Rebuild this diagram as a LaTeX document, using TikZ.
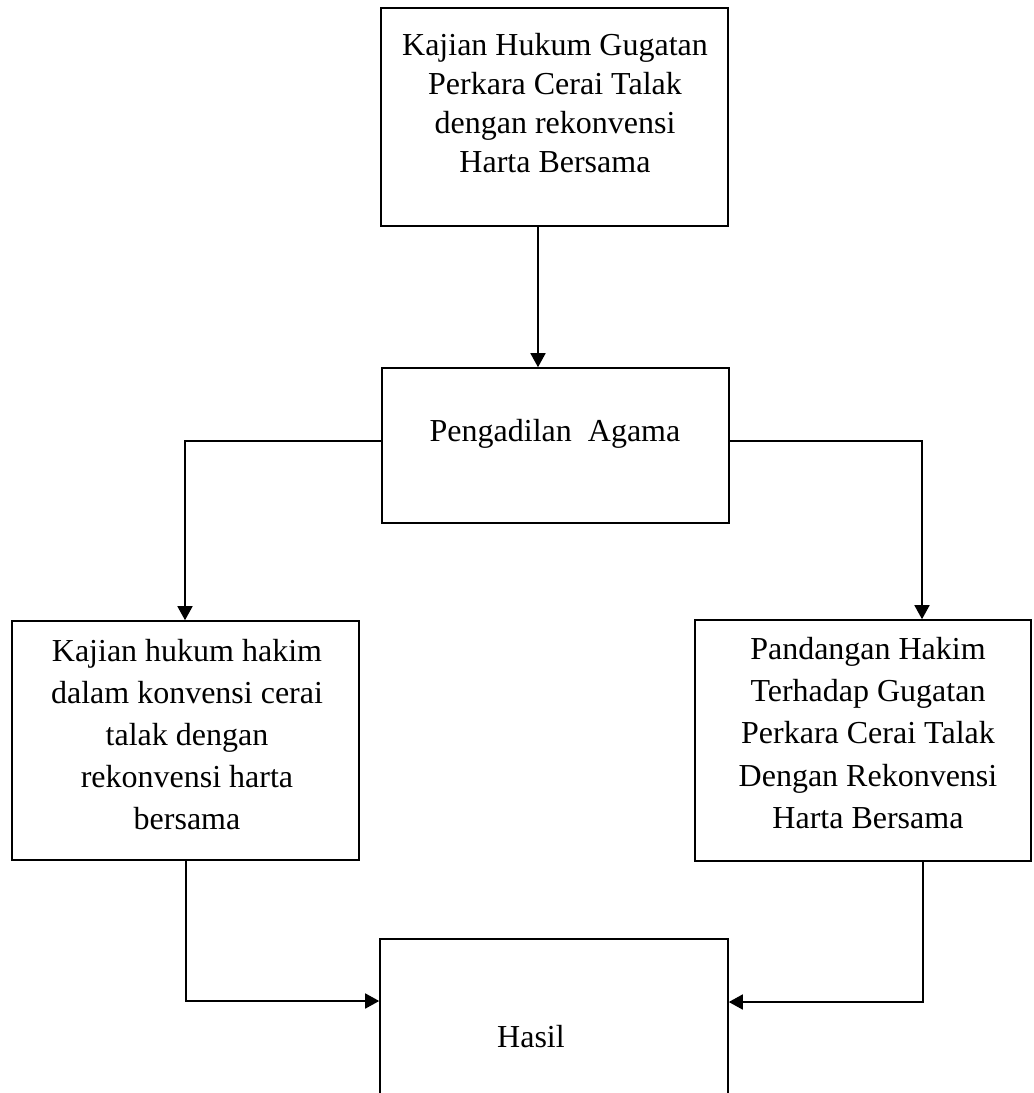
\documentclass[tikz,border=0pt]{standalone}
\usepackage{fontspec}
\setmainfont{Liberation Serif}
\usetikzlibrary{arrows.meta}
\begin{document}
\begin{tikzpicture}[x=1pt,y=-1pt,
  box/.style={draw=black,line width=1.6pt,rectangle,inner sep=0pt},
  txt/.style={align=center,inner sep=0pt,font=\fontsize{32}{42.2}\selectfont},
  arr/.style={draw=black,line width=1.6pt,-{Triangle[length=14pt,width=15pt]}}]
\useasboundingbox[fill=white] (0,0) rectangle (1034,1093);
% boxes
\node[box,minimum width=347pt,minimum height=218pt] (top) at (554.5,117) {};
\node[box,minimum width=347pt,minimum height=155pt] (mid) at (555.5,445.5) {};
\node[box,minimum width=347pt,minimum height=239pt] (left) at (185.5,740.5) {};
\node[box,minimum width=336pt,minimum height=241pt] (right) at (863,740.5) {};
\node[box,minimum width=348pt,minimum height=190pt] (hasil) at (554,1034) {};
% texts
\node[txt,font=\fontsize{32}{39.3}\selectfont] (ttop) at (555,103) {Kajian Hukum Gugatan\\Perkara Cerai Talak\\dengan rekonvensi\\Harta Bersama};
\node[txt,anchor=base] (tmid) at (555,441) {Pengadilan\ \ Agama};
\node[txt] (tleft) at (187,734.5) {Kajian hukum hakim\\dalam konvensi cerai\\talak dengan\\rekonvensi harta\\bersama};
\node[txt] (tright) at (868,733) {Pandangan Hakim\\Terhadap Gugatan\\Perkara Cerai Talak\\Dengan Rekonvensi\\Harta Bersama};
\node[txt,anchor=base] (thasil) at (531,1047) {Hasil};
% connector coordinates
\coordinate (c1) at (538,0);
\coordinate (jl) at (185,441);
\coordinate (jr) at (922,441);
\coordinate (bl) at (186,1001);
\coordinate (br) at (923,1002);
% connectors
\draw[arr] (top.south -| c1) -- (mid.north -| c1);
\draw[arr] (jl -| mid.west) -- (jl) -- (left.north -| jl);
\draw[arr] (jr -| mid.east) -- (jr) -- (right.north -| jr);
\draw[arr] (left.south -| bl) -- (bl) -- (bl -| hasil.west);
\draw[arr] (right.south -| br) -- (br) -- (br -| hasil.east);
\end{tikzpicture}
\end{document}
